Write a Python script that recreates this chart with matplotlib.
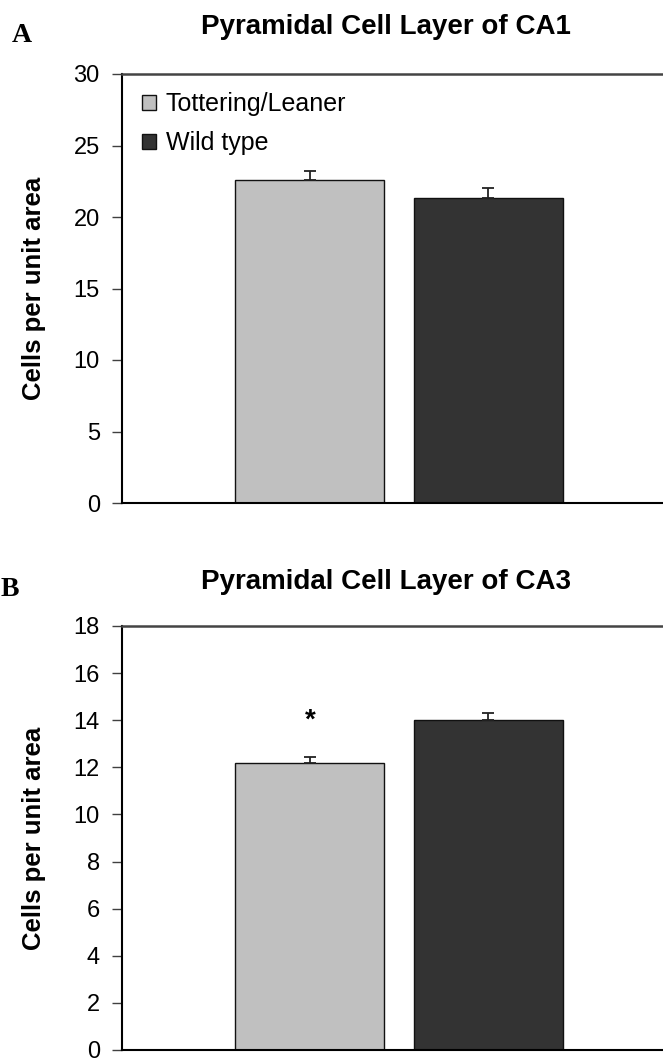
import matplotlib
matplotlib.use('Agg')
import matplotlib.pyplot as plt
from matplotlib.patches import Patch

plt.rcParams['font.family'] = ['Liberation Sans', 'DejaVu Sans']

groups = ['Tottering/Leaner', 'Wild type']
colors = ['#c0c0c0', '#333333']

ca1_mean = [22.6, 21.35]
ca1_err = [0.65, 0.68]

ca3_mean = [12.17, 14.0]
ca3_err = [0.28, 0.29]

panels = [
    ('A', 'Pyramidal Cell Layer of CA1', ca1_mean, ca1_err, 30, 5, False),
    ('B', 'Pyramidal Cell Layer of CA3', ca3_mean, ca3_err, 18, 2, True),
]

W, H = 663, 1063
fig = plt.figure(figsize=(W / 100, H / 100), dpi=100)

# pixel boxes (left, top, right, bottom) for each axes
boxes = [(122, 74, 676, 503), (122, 626, 676, 1050)]
title_y = [27, 582]
letter_pos = [(12, 36), (1, 589)]

xpos = [0.339, 0.661]
width = 0.269

for i, (letter, title, mean, err, ymax, step, star) in enumerate(panels):
    l, t, r, b = boxes[i]
    ax = fig.add_axes([l / W, 1 - b / H, (r - l) / W, (b - t) / H])
    ax.bar(xpos, mean, width=width, color=colors, edgecolor='#111111',
           linewidth=1.0, zorder=2)
    for x, m, e in zip(xpos, mean, err):
        ax.errorbar(x, m, yerr=[[0], [e]], fmt='none', ecolor='#222222',
                    elinewidth=1.3, capsize=4, capthick=1.3, zorder=3)
    ax.set_xlim(0, 1)
    ax.set_ylim(0, ymax)
    ax.set_yticks(range(0, ymax + 1, step))
    ax.set_xticks([])
    ax.tick_params(axis='y', direction='out', length=7, width=1,
                   color='#404040', labelsize=17, pad=9)
    for side in ['left', 'bottom']:
        ax.spines[side].set_linewidth(1.5)
        ax.spines[side].set_color('black')
    ax.spines['top'].set_linewidth(1.8)
    ax.spines['top'].set_color('#444444')
    ax.spines['right'].set_visible(False)
    ax.set_ylabel('Cells per unit area', fontsize=18.5, fontweight='bold')
    ax.yaxis.set_label_coords(-0.137, 0.5)

    if star:
        ax.annotate('*', xy=(xpos[0], mean[0] + err[0]), xytext=(0, 21),
                    textcoords='offset points', ha='center', va='baseline',
                    fontsize=20, fontweight='bold')
    else:
        handles = [Patch(facecolor=c, edgecolor='#111111', linewidth=1.0)
                   for c in colors]
        ax.legend(handles, groups, loc='upper left',
                  bbox_to_anchor=(0.036, 0.957), frameon=False, fontsize=18,
                  handlelength=0.55, handleheight=0.55, handletextpad=0.4,
                  labelspacing=0.6, borderpad=0, borderaxespad=0)

    fig.text(386 / W, 1 - title_y[i] / H, title, ha='center', va='center',
             fontsize=20, fontweight='bold')
    fig.text(letter_pos[i][0] / W, 1 - letter_pos[i][1] / H, letter,
             ha='left', va='center', fontsize=20, fontweight='bold',
             family='Liberation Serif')

fig.savefig('out.png', dpi=100)
